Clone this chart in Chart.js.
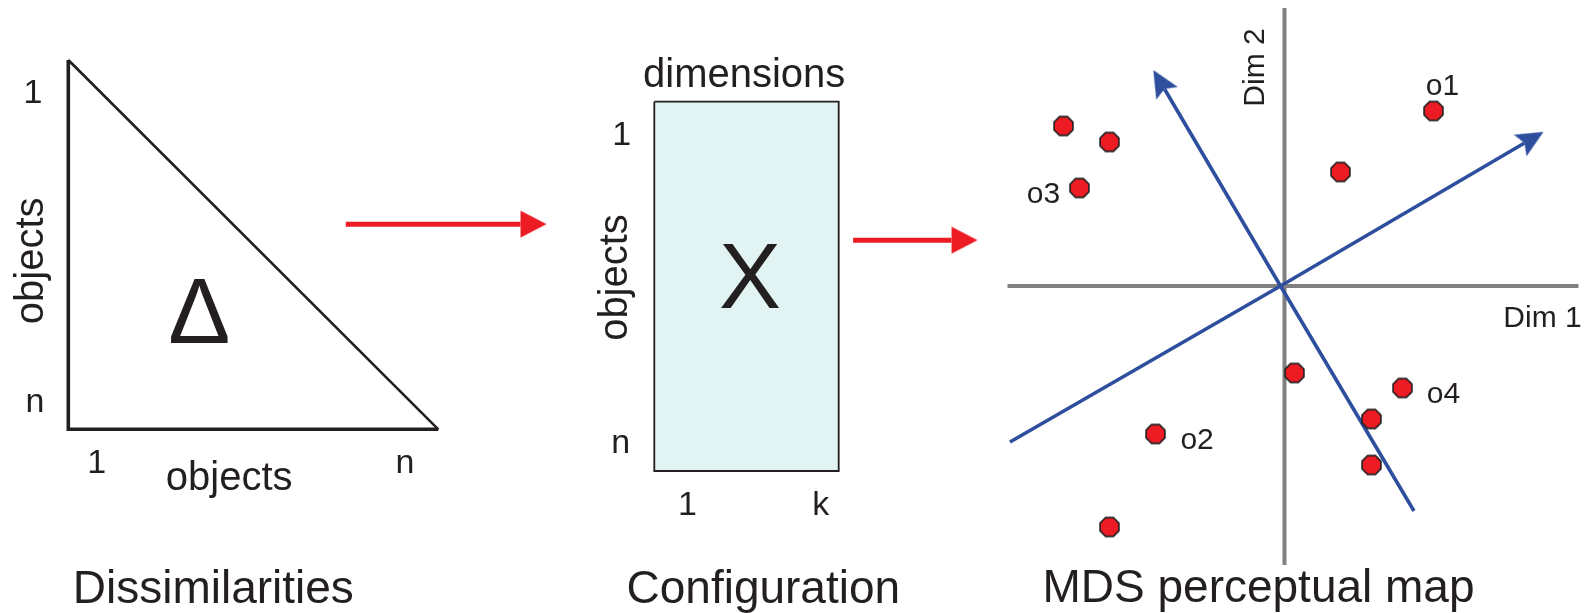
<!DOCTYPE html>
<html>
<head>
<meta charset="utf-8">
<title>From dissimilarities to an MDS perceptual map</title>
<script src="https://cdn.jsdelivr.net/npm/chart.js@4.4.0/dist/chart.umd.min.js"></script>
<style>
  body { margin: 0; background: #fff; }
  #stage { position: relative; width: 1585px; height: 613px; overflow: hidden; }
  #stage canvas { position: absolute; top: 0; }
</style>
</head>
<body>
<div id="stage">
  <canvas id="dissim" width="590" height="613" style="left:0;width:590px;height:613px"></canvas>
  <canvas id="config" width="400" height="613" style="left:590px;width:400px;height:613px"></canvas>
  <canvas id="mds" width="595" height="613" style="left:990px;width:595px;height:613px"></canvas>
</div>
<script>
'use strict';

// ---- data ----------------------------------------------------------------
// dissimilarities: lower triangle of an n x n table (column, row)
let nObjects = 10;
let triangleCols = [1, 1, nObjects];
let triangleRows = [1, nObjects, nObjects];

// configuration X: n objects by k dimensions, cell edges at .5
let kDims = 5;
let matrixCols = [0.5, kDims + 0.5];
let matrixRows = [0.5, nObjects + 0.5];

// flow arrows, in the units of the panel they start from
let arrowInCols = [7.75, 12.0];
let arrowInRows = [5, 5];
let arrowOutCols = [5.89, 8.56];
let arrowOutRows = [4.25, 4.25];

// perceptual map: object scores
let dim1Scores = [-2.21, -1.75, -2.05, 1.49, 0.56, 0.10, 1.18, 0.87, 0.87, -1.29, -1.75];
let dim2Scores = [1.60, 1.44, 0.98, 1.75, 1.14, -0.87, -1.02, -1.33, -1.79, -1.48, -2.41];
let objectNames = ['', '', 'o3', 'o1', '', '', 'o4', '', '', 'o2', ''];

// reference axes
let dim1Extent = [-2.77, 2.94];
let dim2Extent = [-2.79, 2.78];

// rotated directions, crossing just left of the origin (last point = arrow end)
let rotA1 = [-2.745, -0.04, 2.40];
let rotA2 = [-1.56, 0, 1.43];
let rotB1 = [1.295, -0.04, -1.20];
let rotB2 = [-2.25, 0, 1.97];

// tick labels
let objectTicks = ['1', 'n'];
let dimTicks = ['1', 'k'];

// ---- look ----------------------------------------------------------------
const INK = '#231f20';
const RED = '#ed1c24';
const BLUE = '#2e4e9e';
const GREY = '#808080';
const CYAN = '#e1f3f3';
const FONT = '"Liberation Sans", Arial, Helvetica, sans-serif';

// label offsets from their dot, px
const labelOffsets = { o1: [9, -16], o2: [41.6, 15], o3: [-36, 14.6], o4: [41, 15] };

function zip(xs, ys) {
  return xs.map((x, i) => ({ x: x, y: ys[i] }));
}

// value v0 sits at pixel p0 and v1 at p1; give min/max across `size` px
function fit(v0, p0, v1, p1, size) {
  const per = (v1 - v0) / (p1 - p0);
  const min = v0 - p0 * per;
  return { min: min, max: min + size * per };
}

// arrow head drawn pointing up, the shaft stops at the centre
function arrowHead(color, len, width, back) {
  const s = Math.ceil(2 * (len + 3));
  const cv = document.createElement('canvas');
  cv.width = cv.height = s;
  const c = cv.getContext('2d');
  const m = s / 2;
  c.fillStyle = color;
  c.beginPath();
  c.moveTo(m, m - len);
  c.lineTo(m + width / 2, m + back);
  c.lineTo(m, m);
  c.lineTo(m - width / 2, m + back);
  c.closePath();
  c.fill();
  return cv;
}

function octagon(r, fill, stroke) {
  const s = Math.ceil(2 * r + 4);
  const cv = document.createElement('canvas');
  cv.width = cv.height = s;
  const c = cv.getContext('2d');
  const m = s / 2;
  c.beginPath();
  for (let k = 0; k < 8; k++) {
    const a = (22.5 + 45 * k) * Math.PI / 180;
    c.lineTo(m + r * Math.cos(a), m + r * Math.sin(a));
  }
  c.closePath();
  c.fillStyle = fill;
  c.fill();
  c.lineWidth = 1.6;
  c.strokeStyle = stroke;
  c.stroke();
  return cv;
}

// direction of the last segment, turned into a point rotation
function heading(ctx) {
  const d = ctx.dataset.data;
  const i = ctx.dataIndex;
  if (i === 0) return 0;
  const sx = ctx.chart.scales.x, sy = ctx.chart.scales.y;
  const dx = sx.getPixelForValue(d[i].x) - sx.getPixelForValue(d[i - 1].x);
  const dy = sy.getPixelForValue(d[i].y) - sy.getPixelForValue(d[i - 1].y);
  const deg = Math.atan2(dy, dx) * 180 / Math.PI + 90;
  return isFinite(deg) ? deg : 0;
}

function strokeSet(points, color, width, extra) {
  return Object.assign({
    data: points,
    showLine: true,
    borderColor: color,
    borderWidth: width,
    borderJoinStyle: 'miter',
    borderCapStyle: 'butt',
    pointRadius: 0,
    fill: false
  }, extra || {});
}

function arrowSet(points, color, width, head) {
  const last = points.length - 1;
  return strokeSet(points, color, width, {
    pointRadius: ctx => ctx.dataIndex === last ? 1 : 0,
    pointStyle: ctx => ctx.dataIndex === last ? head : 'circle',
    pointRotation: heading,
    pointBorderWidth: 0
  });
}

function drawText(c, t) {
  c.save();
  c.translate(t.x, t.y);
  if (t.rot) c.rotate(t.rot * Math.PI / 180);
  c.font = t.size + 'px ' + FONT;
  c.fillStyle = INK;
  c.textAlign = 'center';
  c.textBaseline = 'alphabetic';
  c.fillText(t.text, 0, 0);
  c.restore();
}

function textLayer(items) {
  return {
    id: 'textLayer',
    afterDraw(chart) {
      items.forEach(t => drawText(chart.ctx, t));
    }
  };
}

function baseOptions(xr, yr, reverseY) {
  return {
    responsive: false,
    animation: false,
    events: [],
    layout: { padding: 0, autoPadding: false },
    plugins: { legend: { display: false }, tooltip: { enabled: false } },
    scales: {
      x: { type: 'linear', display: false, min: xr.min, max: xr.max },
      y: { type: 'linear', display: false, min: yr.min, max: yr.max, reverse: reverseY }
    }
  };
}

const redHead = arrowHead(RED, 26, 27, 0);
const blueHead = arrowHead(BLUE, 22, 25, 5);

// ---- panel 1: dissimilarities --------------------------------------------
const tri = zip(triangleCols, triangleRows);
new Chart(document.getElementById('dissim'), {
  type: 'scatter',
  data: {
    datasets: [
      strokeSet([tri[0], tri[1], tri[2]], INK, 3.6),
      strokeSet([tri[2], tri[0]], INK, 2.6),
      arrowSet(zip(arrowInCols, arrowInRows), RED, 5, redHead)
    ]
  },
  options: baseOptions(fit(1, 68.3, nObjects, 438.3, 590), fit(1, 60, nObjects, 429.3, 613), true),
  plugins: [textLayer([
    { text: objectTicks[0], x: 33, y: 102.7, size: 34 },
    { text: objectTicks[1], x: 35, y: 411.7, size: 34 },
    { text: 'objects', x: 42.7, y: 260.8, size: 40, rot: -90 },
    { text: objectTicks[0], x: 96.7, y: 473.3, size: 34 },
    { text: objectTicks[1], x: 405, y: 473.3, size: 34 },
    { text: 'objects', x: 229.2, y: 490, size: 40 },
    { text: '\u0394', x: 199.2, y: 343.3, size: 93 },
    { text: 'Dissimilarities', x: 213.3, y: 602.7, size: 46 }
  ])]
});

// ---- panel 2: configuration ----------------------------------------------
const box = [
  { x: matrixCols[0], y: matrixRows[0] }, { x: matrixCols[1], y: matrixRows[0] },
  { x: matrixCols[1], y: matrixRows[1] }, { x: matrixCols[0], y: matrixRows[1] },
  { x: matrixCols[0], y: matrixRows[0] }
];
new Chart(document.getElementById('config'), {
  type: 'scatter',
  data: {
    datasets: [
      arrowSet(zip(arrowOutCols, arrowOutRows), RED, 5, redHead),
      strokeSet(box, INK, 1.8, { fill: 'shape', backgroundColor: CYAN })
    ]
  },
  options: baseOptions(fit(0.5, 64.3, kDims + 0.5, 248.7, 400), fit(0.5, 101.7, nObjects + 0.5, 471, 613), true),
  plugins: [textLayer([
    { text: 'dimensions', x: 154.2, y: 87.3, size: 40 },
    { text: objectTicks[0], x: 31.7, y: 145, size: 34 },
    { text: objectTicks[1], x: 30.8, y: 453.3, size: 34 },
    { text: 'objects', x: 36.7, y: 277.5, size: 40, rot: -90 },
    { text: dimTicks[0], x: 97.5, y: 515, size: 34 },
    { text: dimTicks[1], x: 230.8, y: 515, size: 34 },
    { text: 'X', x: 160, y: 308.3, size: 93 },
    { text: 'Configuration', x: 173.3, y: 603, size: 46 }
  ])]
});

// ---- panel 3: MDS perceptual map -----------------------------------------
const objectLabels = {
  id: 'objectLabels',
  afterDatasetsDraw(chart) {
    const pts = chart.getDatasetMeta(0).data;
    objectNames.forEach((name, i) => {
      if (!name) return;
      const off = labelOffsets[name];
      drawText(chart.ctx, { text: name, x: pts[i].x + off[0], y: pts[i].y + off[1], size: 30 });
    });
  }
};

new Chart(document.getElementById('mds'), {
  type: 'scatter',
  data: {
    datasets: [
      { data: zip(dim1Scores, dim2Scores), showLine: false, pointStyle: octagon(10.2, RED, INK), pointRadius: 10 },
      arrowSet(zip(rotA1, rotA2), BLUE, 3.6, blueHead),
      arrowSet(zip(rotB1, rotB2), BLUE, 3.6, blueHead),
      strokeSet(zip(dim1Extent, [0, 0]), GREY, 4),
      strokeSet(zip([0, 0], dim2Extent), GREY, 4)
    ]
  },
  options: baseOptions(fit(0, 294.5, 1, 394.5, 595), fit(0, 327, 1, 427, 613), false),
  plugins: [objectLabels, textLayer([
    { text: 'Dim 2', x: 274, y: 67.5, size: 30, rot: -90 },
    { text: 'Dim 1', x: 552.5, y: 326.7, size: 30 },
    { text: 'MDS perceptual map', x: 268.5, y: 601.7, size: 46 }
  ])]
});
</script>
</body>
</html>
